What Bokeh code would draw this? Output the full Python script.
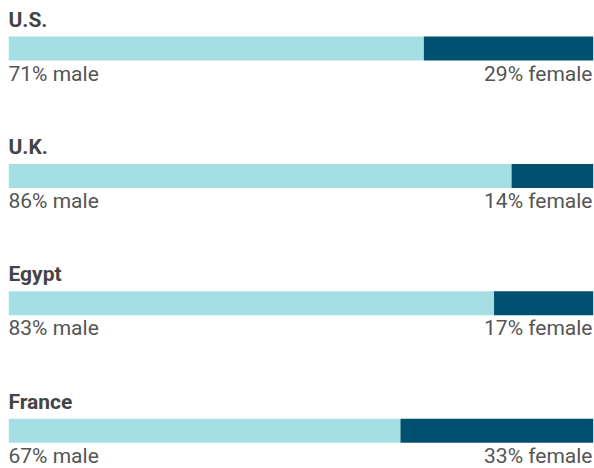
from bokeh.plotting import figure
from bokeh.models import Range1d, ColumnDataSource
from bokeh.core.properties import value
from bokeh.embed import file_html
from bokeh.resources import INLINE

countries = ["U.S.", "U.K.", "Egypt", "France"]
male = [71, 86, 83, 67]
female = [29, 14, 17, 33]

MALE_COLOR = "#a6dfe3"
FEMALE_COLOR = "#00506f"
FONT = "Roboto"

W, H = 594, 468
STEP = 127.4

p = figure(width=W, height=H, output_backend="svg", toolbar_location=None,
           x_range=Range1d(0, 100), y_range=Range1d(H, 0),
           min_border=0, min_border_left=8, min_border_right=1,
           min_border_top=0, min_border_bottom=0)
p.axis.visible = False
p.grid.visible = False
p.outline_line_color = None
p.background_fill_color = "white"
p.border_fill_color = "white"

idx = list(range(len(countries)))
bar_y = [48 + i * STEP for i in idx]
title_y = [19 + i * STEP for i in idx]
label_y = [73 + i * STEP for i in idx]

src = ColumnDataSource(dict(
    country=countries,
    male=male,
    female=female,
    total=[m + f for m, f in zip(male, female)],
    zero=[0] * len(countries),
    bar_y=bar_y,
    title_y=title_y,
    label_y=label_y,
    male_lbl=[f"{m}% male" for m in male],
    female_lbl=[f"{f}% female" for f in female],
))

p.hbar(y="bar_y", left="zero", right="male", height=24, source=src,
       fill_color=MALE_COLOR, line_color=None)
p.hbar(y="bar_y", left="male", right="total", height=24, source=src,
       fill_color=FEMALE_COLOR, line_color=None)

p.text(x="zero", y="title_y", text="country", source=src,
       text_font=value(FONT), text_font_size="21px", text_font_style="bold",
       text_color="#444444", text_baseline="alphabetic", text_align="left",
       x_offset=0)
p.text(x="zero", y="label_y", text="male_lbl", source=src,
       text_font=value(FONT), text_font_size="21px",
       text_color="#555555", text_baseline="alphabetic", text_align="left",
       x_offset=0)
p.text(x="total", y="label_y", text="female_lbl", source=src,
       text_font=value(FONT), text_font_size="21px",
       text_color="#555555", text_baseline="alphabetic", text_align="right",
       x_offset=-1)

open("out.html", "w").write(file_html(p, INLINE))
